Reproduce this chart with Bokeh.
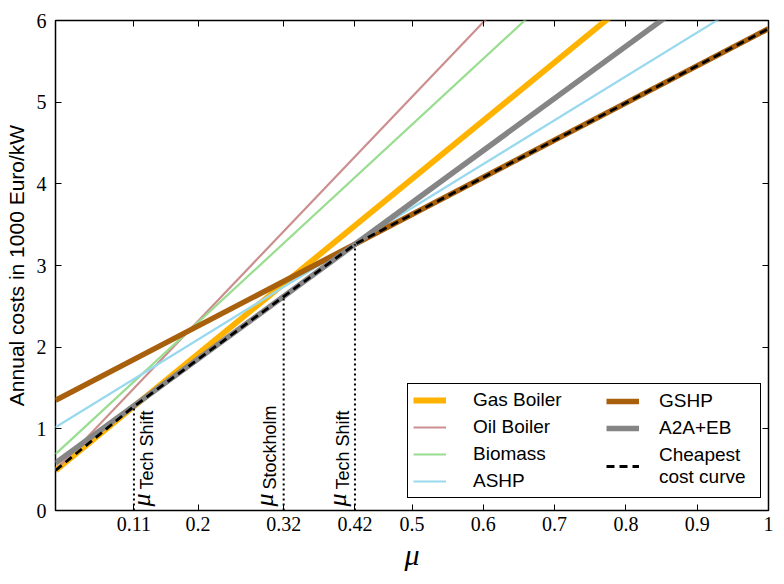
import numpy as np
from bokeh.plotting import figure
from bokeh.models import (Range1d, FixedTicker, LinearAxis, Legend, LegendItem,
                          CustomJSTickFormatter)
from bokeh.core.properties import value
from bokeh.embed import file_html
from bokeh.resources import INLINE

# ---------------- data ----------------
technologies = ["Gas Boiler", "Oil Boiler", "Biomass", "ASHP", "GSHP", "A2A+EB"]
mu_ends = [0.0, 1.0]
cost_at_mu0 = [0.49, 0.49, 0.69, 1.02, 1.35, 0.58]   # 1000 Euro/kW at mu = 0
cost_at_mu1 = [7.63, 9.64, 8.76, 6.39, 5.90, 6.96]   # 1000 Euro/kW at mu = 1
tech_colors = ["#ffb300", "#cc8f8f", "#99dd90", "#99d9ef", "#a8600c", "#858585"]
tech_widths = [5.8, 2.2, 2.2, 2.2, 5.5, 5.5]

cheapest_label = "Cheapest\ncost curve"
cheapest_mu = [0.0, 0.11, 0.42, 1.0]          # break points of the cheapest curve

marker_mu = [0.11, 0.32, 0.42]
marker_names = ["Tech Shift", "Stockholm", "Tech Shift"]

x_ticks = [0.11, 0.2, 0.32, 0.42, 0.5, 0.6, 0.7, 0.8, 0.9, 1.0]
x_tick_labels = ["0.11", "0.2", "0.32", "0.42", "0.5", "0.6", "0.7", "0.8", "0.9", "1"]
y_ticks = [0, 1, 2, 3, 4, 5, 6]

# cheapest curve = lowest technology cost at each break point
a0 = np.array(cost_at_mu0)
a1 = np.array(cost_at_mu1)
cheapest_cost = [float(np.min(a0 + (a1 - a0) * m)) for m in cheapest_mu]
marker_top = [float(np.interp(m, cheapest_mu, cheapest_cost)) for m in marker_mu]

# ---------------- figure ----------------
p = figure(frame_width=713, frame_height=490,
           x_range=Range1d(0, 1), y_range=Range1d(0, 6),
           output_backend="svg", toolbar_location=None,
           min_border_left=55, min_border_right=14, min_border_top=20, min_border_bottom=20,
           x_axis_label="μ", y_axis_label="Annual costs in 1000 Euro/kW")
p.background_fill_color = "white"
p.border_fill_color = "white"
p.grid.visible = False
p.outline_line_color = "black"
p.outline_line_width = 1.5
p.outline_line_alpha = 1.0

bottom_axis = p.below[0]
left_axis = p.left[0]

bottom_axis.ticker = FixedTicker(ticks=x_ticks)
bottom_axis.major_label_overrides = {t: l for t, l in zip(x_ticks, x_tick_labels)}
left_axis.ticker = FixedTicker(ticks=y_ticks)

top_axis = LinearAxis(ticker=FixedTicker(ticks=x_ticks),
                      formatter=CustomJSTickFormatter(code="return ''"))
right_axis = LinearAxis(ticker=FixedTicker(ticks=y_ticks),
                        formatter=CustomJSTickFormatter(code="return ''"))
p.add_layout(top_axis, "above")
p.add_layout(right_axis, "right")

for ax in [bottom_axis, left_axis, top_axis, right_axis]:
    ax.axis_line_color = None
    ax.major_tick_in = 6
    ax.major_tick_out = 0
    ax.major_tick_line_color = "black"
    ax.major_tick_line_width = 1
    ax.minor_tick_line_color = None
    ax.major_label_text_font = "Liberation Serif"
    ax.major_label_text_font_size = "20px"
    ax.major_label_text_color = "black"
for ax in [top_axis, right_axis]:
    ax.major_label_standoff = 0

bottom_axis.major_label_standoff = 6
left_axis.major_label_standoff = 9
bottom_axis.axis_label_text_font = "Liberation Serif"
bottom_axis.axis_label_text_font_style = "italic"
bottom_axis.axis_label_text_font_size = "30px"
bottom_axis.axis_label_text_color = "black"
bottom_axis.axis_label_standoff = 4
left_axis.axis_label_text_font = "Liberation Sans"
left_axis.axis_label_text_font_style = "normal"
left_axis.axis_label_text_font_size = "21px"
left_axis.axis_label_text_color = "black"
left_axis.axis_label_standoff = 6

# ---------------- lines ----------------
renderers = []
for name, c0, c1, col, w in zip(technologies, cost_at_mu0, cost_at_mu1, tech_colors, tech_widths):
    r = p.line(mu_ends, [c0, c1], line_color=col, line_width=w)
    renderers.append(r)

r_cheap = p.line(cheapest_mu, cheapest_cost, line_color="black", line_width=2.8,
                 line_dash="8 5")

# vertical dotted markers
p.segment(x0=marker_mu, y0=[0] * len(marker_mu), x1=marker_mu, y1=marker_top,
          line_color="black", line_width=2, line_dash="2 3")

# marker labels (mu with subscript), rotated
mu_offsets = [8, -19, -17]
sub_offsets = [13, -14, -12]
p.text(x=marker_mu, y=[0] * 3, text=["μ"] * 3, angle=np.pi / 2,
       x_offset=mu_offsets, y_offset=[-4] * 3,
       text_align="left", text_baseline="alphabetic",
       text_font=value("Liberation Serif"), text_font_style="italic",
       text_font_size="26px", text_color="black")
p.text(x=marker_mu, y=[0] * 3, text=marker_names, angle=np.pi / 2,
       x_offset=sub_offsets, y_offset=[-21] * 3,
       text_align="left", text_baseline="alphabetic",
       text_font=value("Liberation Sans"),
       text_font_size="18px", text_color="black")

# ---------------- legend ----------------
items1 = [LegendItem(label=technologies[i], renderers=[renderers[i]]) for i in range(4)]
items2 = [LegendItem(label=technologies[i], renderers=[renderers[i]]) for i in range(4, 6)]
items2.append(LegendItem(label=cheapest_label, renderers=[r_cheap]))

common = dict(padding=5, spacing=5, glyph_width=33, glyph_height=22,
              label_text_font="Liberation Sans", label_text_font_size="19px",
              label_text_color="black", margin=0)
leg1 = Legend(items=items1, location=(352, 12), label_width=282, label_standoff=27,
              border_line_color="black", border_line_width=1.5, border_line_alpha=1,
              background_fill_color="white", background_fill_alpha=1, **common)
leg2 = Legend(items=items2, location=(551, 22), label_standoff=20,
              border_line_color=None, background_fill_alpha=0, **common)
p.add_layout(leg1)
p.add_layout(leg2)

open("out.html", "w").write(file_html(p, INLINE))
